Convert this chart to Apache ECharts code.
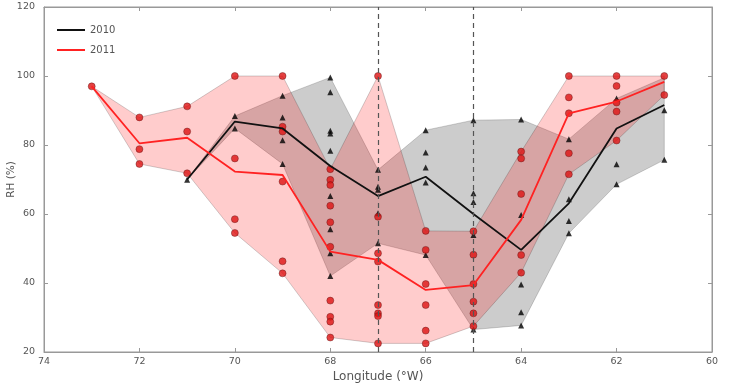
<!DOCTYPE html>
<html>
<head>
<meta charset="utf-8">
<script src="https://cdn.jsdelivr.net/npm/echarts@6/dist/echarts.min.js"></script>
<style>
html, body { margin: 0; padding: 0; background: #fff; }
#chart { width: 735px; height: 389px; }
</style>
</head>
<body>
<div id="chart"></div>
<script>
// longitude columns
let lon2010 = [71, 70, 69, 68, 67, 66, 65, 64, 63, 62, 61];
let lon2011 = [73, 72, 71, 70, 69, 68, 67, 66, 65, 64, 63, 62, 61];

// mean line and min/max envelope
let mean2010 = [70, 86.8, 84.8, 73.9, 65.2, 70.8, 60, 49.6, 63.1, 84.8, 91.6];
let hi2010 = [70, 88.4, 94.3, 99.6, 72.8, 84.3, 87.2, 87.4, 81.7, 93.5, 99.5];
let lo2010 = [70, 84.8, 74.5, 42.0, 51.5, 48.1, 26.5, 27.7, 54.4, 68.6, 75.7];

let mean2011 = [97, 80.5, 82.1, 72.3, 71.3, 49.1, 46.7, 38.0, 39.4, 58.3, 89.2, 92.6, 98.3];
let hi2011 = [97, 88, 91.2, 100, 100, 73.0, 100, 55.1, 55.0, 78.1, 100, 100, 100];
let lo2011 = [97, 74.5, 71.8, 54.5, 42.8, 24.2, 22.5, 22.5, 27.5, 43.0, 71.5, 81.3, 94.5];

// individual observations [lon, RH]
let obs2010 = [
  [71, 69.9],
  [70, 88.4], [70, 84.8],
  [69, 94.3], [69, 88.0], [69, 81.4], [69, 74.5],
  [68, 99.6], [68, 95.3], [68, 84.1], [68, 83.3], [68, 78.3], [68, 65.2], [68, 55.6], [68, 48.6], [68, 42.0],
  [67, 72.8], [67, 67.9], [67, 67.0], [67, 60.2], [67, 51.5],
  [66, 84.3], [66, 77.8], [66, 73.5], [66, 69.1], [66, 48.1],
  [65, 87.2], [65, 66.0], [65, 63.5], [65, 53.9], [65, 26.5],
  [64, 87.4], [64, 59.7], [64, 39.6], [64, 31.5], [64, 27.7],
  [63, 81.7], [63, 64.3], [63, 58.0], [63, 54.4],
  [62, 93.5], [62, 74.4], [62, 68.6],
  [61, 90.1], [61, 75.7]
];
let obs2011 = [
  [73, 97],
  [72, 88], [72, 78.8], [72, 74.5],
  [71, 91.2], [71, 83.9], [71, 71.8],
  [70, 100], [70, 76.1], [70, 58.5], [70, 54.5],
  [69, 100], [69, 85.3], [69, 83.9], [69, 69.4], [69, 46.3], [69, 42.8],
  [68, 73.0], [68, 69.9], [68, 68.4], [68, 62.4], [68, 57.6], [68, 50.5], [68, 34.9], [68, 30.2], [68, 28.8], [68, 24.2],
  [67, 100], [67, 59.2], [67, 48.6], [67, 46.2], [67, 33.6], [67, 31.2], [67, 30.4], [67, 22.5],
  [66, 55.1], [66, 49.6], [66, 39.7], [66, 33.6], [66, 26.2], [66, 22.5],
  [65, 55.0], [65, 48.2], [65, 39.7], [65, 34.6], [65, 31.2], [65, 27.5],
  [64, 78.1], [64, 76.1], [64, 65.8], [64, 48.1], [64, 43.0],
  [63, 100], [63, 93.8], [63, 89.2], [63, 77.6], [63, 71.5],
  [62, 100], [62, 97.1], [62, 92.3], [62, 89.7], [62, 81.3],
  [61, 100], [61, 94.5]
];

let dashedLon = [67, 65];

let myChart = echarts.init(document.getElementById('chart'));

function zip(xs, ys) {
  return xs.map(function (x, i) { return [x, ys[i]]; });
}

function bandSeries(lons, hi, lo, fill, z) {
  return {
    type: 'custom',
    silent: true,
    z: z,
    data: [[lons[0], hi[0]]],
    renderItem: function (params, api) {
      let pts = [];
      for (let i = 0; i < lons.length; i++) pts.push(api.coord([lons[i], hi[i]]));
      for (let i = lons.length - 1; i >= 0; i--) pts.push(api.coord([lons[i], lo[i]]));
      return {
        type: 'polygon',
        shape: { points: pts },
        style: { fill: fill, stroke: 'rgba(0,0,0,0.18)', lineWidth: 1 }
      };
    }
  };
}

let font = 'DejaVu Sans';

let option = {
  animation: false,
  textStyle: { fontFamily: font },
  grid: {
    left: 44, right: 23, top: 7, bottom: 37,
    outerBoundsMode: 'none',
    show: true, borderColor: '#999', borderWidth: 1
  },
  legend: {
    orient: 'vertical',
    left: 52,
    top: 20,
    itemGap: 10,
    itemWidth: 28,
    itemHeight: 2,
    icon: 'rect',
    textStyle: { color: '#555', fontSize: 10, fontFamily: font },
    data: ['2010', '2011']
  },
  xAxis: [{
    type: 'value',
    min: 60, max: 74, interval: 2,
    inverse: true,
    name: 'Longitude (°W)',
    nameLocation: 'middle',
    nameGap: 19,
    nameMoveOverlap: false,
    nameTextStyle: { color: '#555', fontSize: 12 },
    axisLine: { lineStyle: { color: '#999' } },
    axisTick: { inside: true, length: 4, lineStyle: { color: '#999' } },
    axisLabel: { color: '#555', fontSize: 9.5, margin: 5 },
    splitLine: { show: false }
  }, {
    type: 'value',
    position: 'top',
    min: 60, max: 74, interval: 2,
    inverse: true,
    axisLine: { lineStyle: { color: '#999' } },
    axisTick: { inside: true, length: 4, lineStyle: { color: '#999' } },
    axisLabel: { show: false },
    splitLine: { show: false }
  }],
  yAxis: [{
    type: 'value',
    min: 20, max: 120, interval: 20,
    name: 'RH (%)',
    nameLocation: 'middle',
    nameGap: 27,
    nameMoveOverlap: false,
    nameTextStyle: { color: '#555', fontSize: 10.5 },
    axisLine: { show: true, lineStyle: { color: '#999' } },
    axisTick: { show: true, inside: true, length: 4, lineStyle: { color: '#999' } },
    axisLabel: { color: '#555', fontSize: 9.5, margin: 9 },
    splitLine: { show: false }
  }, {
    type: 'value',
    position: 'right',
    min: 20, max: 120, interval: 20,
    axisLine: { show: true, lineStyle: { color: '#999' } },
    axisTick: { show: true, inside: true, length: 4, lineStyle: { color: '#999' } },
    axisLabel: { show: false },
    splitLine: { show: false }
  }],
  series: [
    bandSeries(lon2010, hi2010, lo2010, 'rgba(0,0,0,0.2)', 1),
    bandSeries(lon2011, hi2011, lo2011, 'rgba(255,0,0,0.2)', 2),
    {
      type: 'scatter',
      z: 3,
      symbol: 'triangle',
      symbolSize: 6,
      itemStyle: { color: '#000' },
      data: obs2010,
      markLine: {
        silent: true,
        symbol: 'none',
        label: { show: false },
        lineStyle: { type: [5, 4], color: '#555', width: 1.2 },
        data: dashedLon.map(function (v) { return { xAxis: v }; })
      }
    },
    {
      type: 'scatter',
      z: 3,
      symbol: 'circle',
      symbolSize: 7,
      itemStyle: { color: '#dd1111', borderColor: '#551111', borderWidth: 0.5 },
      data: obs2011
    },
    {
      name: '2010',
      type: 'line',
      z: 4,
      showSymbol: false,
      color: '#111',
      lineStyle: { color: '#111', width: 1.8 },
      data: zip(lon2010, mean2010)
    },
    {
      name: '2011',
      type: 'line',
      z: 4,
      showSymbol: false,
      color: '#ff2222',
      lineStyle: { color: '#ff2222', width: 1.8 },
      data: zip(lon2011, mean2011)
    }
  ]
};

option && myChart.setOption(option);
</script>
</body>
</html>
